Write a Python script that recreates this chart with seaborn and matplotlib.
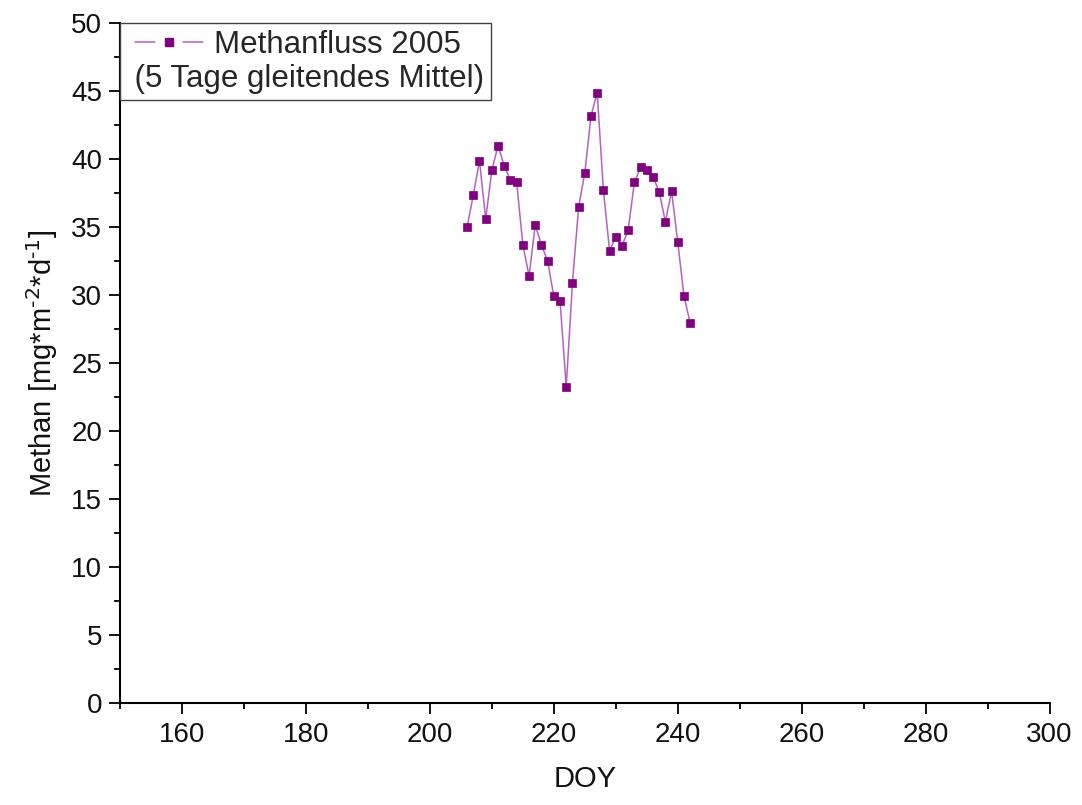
import matplotlib
matplotlib.use("Agg")
import matplotlib.pyplot as plt
import seaborn as sns
import pandas as pd
from matplotlib.lines import Line2D
from matplotlib.legend_handler import HandlerBase
from matplotlib.ticker import MultipleLocator

# Methane flux, 5-day running mean, summer 2005
doy = [206, 207, 208, 209, 210, 211, 212, 213, 214, 215, 216, 217, 218,
       219, 220, 221, 222, 223, 224, 225, 226, 227, 228, 229, 230, 231,
       232, 233, 234, 235, 236, 237, 238, 239, 240, 241, 242]
methan = [35.0, 37.35, 39.9, 35.6, 39.2, 41.0, 39.5, 38.45, 38.3, 33.7,
          31.4, 35.15, 33.7, 32.5, 29.9, 29.6, 23.25, 30.9, 36.5, 39.0,
          43.2, 44.9, 37.7, 33.25, 34.3, 33.6, 34.8, 38.3, 39.4, 39.2,
          38.7, 37.6, 35.4, 37.65, 33.9, 29.95, 27.95]

series_label = "Methanfluss 2005"
series_note = "(5 Tage gleitendes Mittel)"
x_label = "DOY"
y_label = r"Methan [mg*m$^{\text{-2}}$*d$^{\text{-1}}$]"

line_color = "#b462c0"
marker_color = "#800080"

LEGEND_FS = 22.5
# extra left inset of the legend contents, in points
INSET_PT = 6.0


class BrokenLineHandler(HandlerBase):
    """Legend key: a line interrupted around a centred square marker."""

    def create_artists(self, legend, orig_handle, xdescent, ydescent,
                       width, height, fontsize, trans):
        y = height / 2 - ydescent
        x0 = -xdescent + INSET_PT
        x1 = -xdescent + width
        xm = (x0 + x1) / 2
        gap = 0.2 * (x1 - x0)
        left = Line2D([x0, xm - gap], [y, y], color=line_color, linewidth=1.1)
        right = Line2D([xm + gap, x1], [y, y], color=line_color, linewidth=1.1)
        mark = Line2D([xm], [y], linestyle="none", marker="s",
                      markersize=5.2, color=marker_color,
                      markeredgecolor=marker_color)
        arts = [left, right, mark]
        for a in arts:
            a.set_transform(trans)
        return arts


df = pd.DataFrame({"DOY": doy, "Methan": methan})

sns.set_style("ticks")
plt.rcParams["font.family"] = ["Liberation Sans", "DejaVu Sans"]
plt.rcParams["mathtext.default"] = "regular"

fig = plt.figure(figsize=(10.82, 8.05), dpi=100)
ax = fig.add_axes([0.111, 0.127, 0.859, 0.844])

sns.lineplot(data=df, x="DOY", y="Methan", ax=ax,
             color=line_color, linewidth=1.1,
             marker="s", markersize=5.2,
             markerfacecolor=marker_color, markeredgecolor=marker_color,
             markeredgewidth=0.5, legend=False)

ax.set_xlim(150, 300)
ax.set_ylim(0, 50)
ax.xaxis.set_major_locator(MultipleLocator(20))
ax.xaxis.set_minor_locator(MultipleLocator(10))
ax.yaxis.set_major_locator(MultipleLocator(5))
ax.yaxis.set_minor_locator(MultipleLocator(2.5))

ax.tick_params(which="major", direction="out", length=8, width=1.3,
               labelsize=20, color="black", labelcolor="#111111")
ax.tick_params(which="minor", direction="out", length=4.5, width=1.3,
               color="black")
ax.tick_params(axis="x", which="major", pad=6)
ax.tick_params(axis="y", which="major", pad=5)

for side in ("top", "right"):
    ax.spines[side].set_visible(False)
for side in ("left", "bottom"):
    ax.spines[side].set_linewidth(1.5)
    ax.spines[side].set_color("black")

ax.set_xlabel(x_label, fontsize=21, labelpad=12, color="#111111")
ax.set_ylabel(y_label, fontsize=21, labelpad=8, color="#111111")

key = ax.get_lines()[0]
leg = ax.legend([key], [series_label],
                handler_map={Line2D: BrokenLineHandler()},
                title=" " + series_note, title_fontsize=LEGEND_FS,
                fontsize=LEGEND_FS, alignment="left", loc="upper left",
                bbox_to_anchor=(0.0, 1.0), borderaxespad=0.0,
                borderpad=0.2,
                handlelength=2.2 + INSET_PT / LEGEND_FS,
                handletextpad=0.33, numpoints=1, labelspacing=0.1,
                fancybox=False, framealpha=1.0, edgecolor="#444444")
leg.get_frame().set_linewidth(1.0)
# note line goes below the series entry
box = leg._legend_box
kids = box.get_children()
box._children = [kids[1], kids[0]]
box.sep = 3

fig.savefig("out.png", dpi=100)
